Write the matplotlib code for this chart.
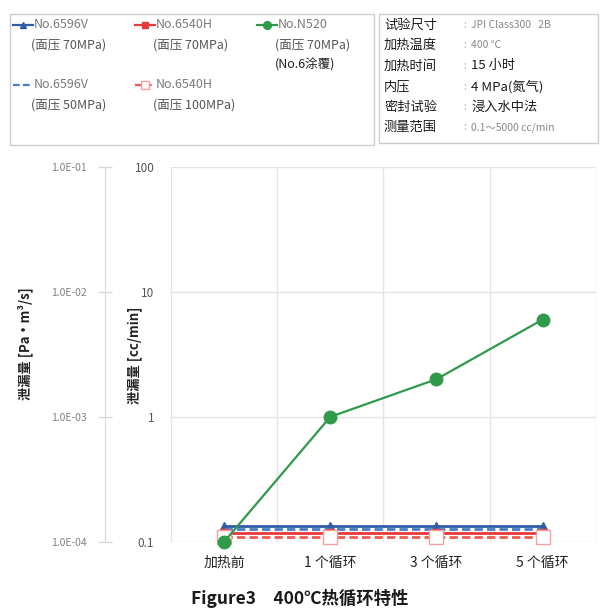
import matplotlib
matplotlib.use("Agg")
import matplotlib.pyplot as plt
from matplotlib.lines import Line2D
from matplotlib.patches import Rectangle
from matplotlib.ticker import FixedLocator, FuncFormatter, NullLocator

plt.rcParams["font.family"] = ["Noto Sans CJK SC", "DejaVu Sans"]

# ---- data -------------------------------------------------------------
stages = ["加热前", "1 个循环", "3 个循环", "5 个循环"]

leak_6596v_70 = [0.135, 0.135, 0.135, 0.135]
leak_6540h_70 = [0.118, 0.118, 0.118, 0.118]
leak_n520_70 = [0.1, 1.0, 2.0, 6.0]
leak_6596v_50 = [0.127, 0.127, 0.127, 0.127]
leak_6540h_100 = [0.110, 0.110, 0.110, 0.110]

legend_names = ["No.6596V", "No.6540H", "No.N520", "No.6596V", "No.6540H"]
legend_notes = [["(面压 70MPa)"], ["(面压 70MPa)"], ["(面压 70MPa)", "(No.6涂覆)"],
                ["(面压 50MPa)"], ["(面压 100MPa)"]]

cond_names = ["试验尺寸", "加热温度", "加热时间", "内压", "密封试验", "测量范围"]
cond_values = ["JPI Class300   2B", "400 ℃", "15 小时", "4 MPa(氮气)", "浸入水中法", "0.1〜5000 cc/min"]

cc_ticks = [0.1, 1, 10, 100]
pa_ticks = [1e-4, 1e-3, 1e-2, 1e-1]

# ---- figure -----------------------------------------------------------
fig = plt.figure(figsize=(6.0, 6.13), dpi=100)
ax = fig.add_axes([0.285, 0.116, 0.708, 0.612])

x = list(range(len(stages)))
styles = [
    dict(data=leak_6596v_70, color="#2F5DA8", ls="-", marker="^", ms=6, mfc="#2F5DA8", mec="#2F5DA8", lw=2.0),
    dict(data=leak_6540h_70, color="#E53A3A", ls="-", marker="s", ms=6, mfc="#E53A3A", mec="#E53A3A", lw=2.0),
    dict(data=leak_n520_70, color="#2E9A4A", ls="-", marker="o", ms=9, mfc="#2E9A4A", mec="#2E9A4A", lw=1.6),
    dict(data=leak_6596v_50, color="#4A7CC4", ls=(0, (3, 1.5)), marker="None", ms=0, mfc="none", mec="none", lw=2.0),
    dict(data=leak_6540h_100, color="#EE5A50", ls=(0, (3, 1.5)), marker="s", ms=10, mfc="white", mec="#F2A0A0", lw=2.0),
]
draw_order = [0, 3, 1, 4, 2]
for i in draw_order:
    s = styles[i]
    ax.plot(x, s["data"], color=s["color"], ls=s["ls"], lw=s["lw"],
            marker=s["marker"], ms=s["ms"], mfc=s["mfc"], mec=s["mec"],
            clip_on=False, zorder=3 + (2 if i == 2 else 0))

ax.set_yscale("log")
ax.set_ylim(0.1, 100)
ax.set_xlim(-0.5, 3.5)
ax.yaxis.set_major_locator(FixedLocator(cc_ticks))
ax.yaxis.set_minor_locator(NullLocator())
ax.yaxis.set_major_formatter(FuncFormatter(lambda v, p: f"{v:g}"))
ax.set_xticks(x)
ax.set_xticklabels(stages, fontsize=10, color="#222222")
ax.set_xticks([v - 0.5 for v in range(5)] + [v for v in x], minor=True)
ax.grid(True, which="minor", axis="x", color="#E4E4E4", lw=1.0)
ax.grid(True, which="major", axis="y", color="#E4E4E4", lw=1.0)
ax.tick_params(axis="x", which="both", length=0, pad=10)
ax.tick_params(axis="y", length=0, labelsize=8.5, labelcolor="#555555", pad=12)
for sp in ax.spines.values():
    sp.set_visible(False)
ax.set_axisbelow(True)

# second scale in Pa·m³/s, 1 cc/min = 1E-3
pa = ax.secondary_yaxis(-0.155, functions=(lambda v: v * 1e-3, lambda v: v * 1e3))
pa.yaxis.set_major_locator(FixedLocator(pa_ticks))
pa.yaxis.set_minor_locator(NullLocator())
pa.yaxis.set_major_formatter(FuncFormatter(lambda v, p: f"{v:.1E}"))
pa.tick_params(axis="y", direction="inout", length=10, width=1.0, color="#D8D8D8",
               labelsize=7.5, labelcolor="#808080", pad=8)
pa.spines["left"].set_color("#D8D8D8")

fig.text(0.042, 0.44, "泄漏量 [Pa·m³/s]", rotation=90, ha="center", va="center",
         fontsize=9.5, fontweight="bold", color="#222222")
fig.text(0.225, 0.42, "泄漏量 [cc/min]", rotation=90, ha="center", va="center",
         fontsize=9.5, fontweight="bold", color="#222222")

# ---- legend box ---------------------------------------------------------
fig.add_artist(Rectangle((0.017, 1 - 145 / 613), 0.607, 131 / 613, transform=fig.transFigure,
                         fill=False, ec="#CCCCCC", lw=1.0))
col_x = [0.022, 0.225, 0.428]
row_y = [1 - 25 / 613, 1 - 85 / 613]
line_h = 20 / 613
grid_pos = [(0, 0), (1, 0), (2, 0), (0, 1), (1, 1)]
for i, (c, r) in enumerate(grid_pos):
    s = styles[i]
    x0, y0 = col_x[c], row_y[r]
    fig.add_artist(Line2D([x0, x0 + 0.033], [y0, y0], transform=fig.transFigure,
                          color=s["color"], ls=s["ls"], lw=1.6))
    if s["marker"] != "None":
        fig.add_artist(Line2D([x0 + 0.0165], [y0], transform=fig.transFigure,
                              marker=s["marker"], ms=min(s["ms"], 7) * 0.8,
                              mfc=s["mfc"], mec=s["mec"], ls="none"))
    fig.text(x0 + 0.035, y0, legend_names[i], ha="left", va="center",
             fontsize=9, color="#7A7A7A")
    for k, note in enumerate(legend_notes[i]):
        fig.text(x0 + 0.030, y0 - line_h * (k + 1), note, ha="left", va="center",
                 fontsize=9, color="#555555" if k == 0 else "#222222")

# ---- test condition box ---------------------------------------------------
fig.add_artist(Rectangle((0.632, 1 - 143 / 613), 0.365, 129 / 613, transform=fig.transFigure,
                         fill=False, ec="#CCCCCC", lw=1.0))
for k, (name, val) in enumerate(zip(cond_names, cond_values)):
    yy = 1 - (25 + 20.5 * k) / 613
    fig.text(0.640, yy, name, ha="left", va="center", fontsize=9.5, color="#1A1A1A")
    dark = k in (2, 3, 4)
    fig.text(0.772, yy, ":", ha="left", va="center", fontsize=7, color="#AAAAAA")
    fig.text(0.785, yy, val, ha="left", va="center",
             fontsize=9.5 if dark else 7.5, color="#1A1A1A" if dark else "#888888")

fig.text(0.5, 1 - 598 / 613, "Figure3\u3000400℃热循环特性", ha="center", va="center",
         fontsize=12.5, fontweight="bold", color="#1A1A1A")

fig.savefig("out.png", dpi=100)
